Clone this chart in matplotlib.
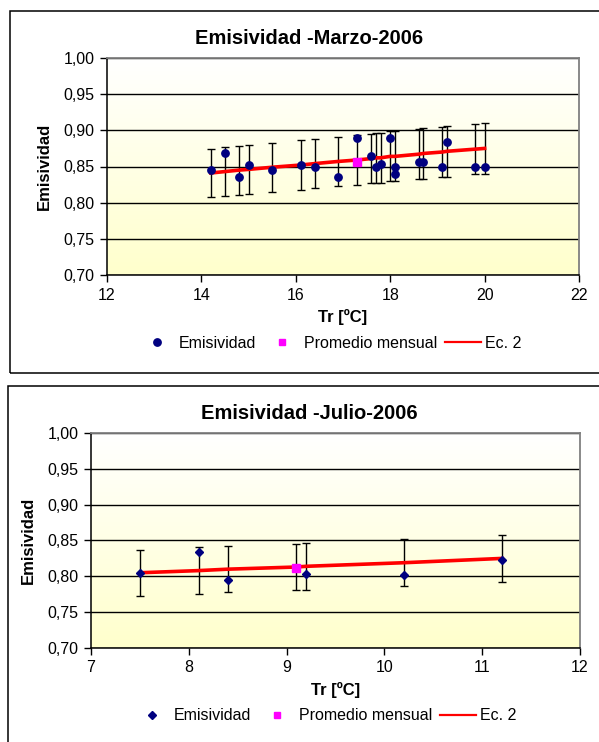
#!/usr/bin/env python3
import sys
import numpy as np
import matplotlib
matplotlib.use("Agg")
import matplotlib.pyplot as plt
from matplotlib.lines import Line2D
from matplotlib.patches import Rectangle
from matplotlib.ticker import FuncFormatter

W, H = 599, 742  # output size in pixels

# Marzo 2006
marzo_tr = [14.2, 14.5, 14.8, 15.0, 15.5, 16.1, 16.4, 16.9, 17.3, 17.6, 17.7,
            17.8, 18.0, 18.1, 18.1, 18.6, 18.7, 19.1, 19.2, 19.8, 20.0]
marzo_emis = [0.845, 0.868, 0.836, 0.852, 0.845, 0.852, 0.849, 0.836, 0.889, 0.864, 0.849,
              0.854, 0.889, 0.850, 0.840, 0.856, 0.856, 0.850, 0.884, 0.849, 0.850]
marzo_prom_tr = [17.3]
marzo_prom = [0.856]
marzo_ec2_tr = [14.2, 14.5, 14.8, 15.0, 15.5, 16.1, 16.4, 16.9, 17.3, 17.6,
                17.7, 17.8, 18.0, 18.1, 18.6, 18.7, 19.1, 19.2, 19.8, 20.0]
marzo_ec2 = [0.841, 0.843, 0.845, 0.846, 0.849, 0.852, 0.854, 0.857, 0.859, 0.861,
             0.862, 0.862, 0.864, 0.864, 0.867, 0.868, 0.870, 0.871, 0.874, 0.875]

# Julio 2006
julio_tr = [7.5, 8.1, 8.4, 9.2, 10.2, 11.2]
julio_emis = [0.805, 0.834, 0.795, 0.803, 0.802, 0.823]
julio_prom_tr = [9.1]
julio_prom = [0.811]
julio_ec2_tr = [7.5, 8.1, 8.4, 9.1, 9.2, 10.2, 11.2]
julio_ec2 = [0.805, 0.808, 0.810, 0.813, 0.814, 0.819, 0.825]

ERR_PCT = 0.04  # error bars, percent of Ec. 2
y_ticks = [0.70, 0.75, 0.80, 0.85, 0.90, 0.95, 1.00]

NAVY = "#000080"
MAGENTA = "#FF00FF"
RED = "#FF0000"


def fx(x):
    return x / W


def fy(y):
    return 1 - y / H


def panel(fig, ax_px, box_px, title, xticks, tr, emis, prom_tr, prom,
          ec2_tr, ec2, marker, ms, ylab_x, leg_x):
    l, t, r, b = ax_px
    # frame around the whole chart
    bl, bt, bb = box_px
    fig.patches.append(Rectangle((fx(bl), fy(bb)), 1.2, fy(bt) - fy(bb),
                                 transform=fig.transFigure, fill=False,
                                 edgecolor="black", lw=1.1))

    ax = fig.add_axes([fx(l), fy(b), fx(r - l), fy(t) - fy(b)])
    # white -> light yellow gradient
    grad = np.linspace(0, 1, 256).reshape(-1, 1, 1)
    top_c = np.array([1.0, 1.0, 1.0])
    bot_c = np.array([1.0, 1.0, 0.80])
    img = top_c * (1 - grad) + bot_c * grad
    ax.imshow(img, extent=[0, 1, 0, 1], transform=ax.transAxes,
              aspect="auto", zorder=0)

    err = [v * ERR_PCT for v in ec2]
    ax.errorbar(ec2_tr, ec2, yerr=err, fmt="none", ecolor="black",
                elinewidth=1, capsize=3, capthick=1, zorder=2)
    ax.plot(ec2_tr, ec2, color=RED, lw=2.6, zorder=3)
    ax.plot(tr, emis, ls="none", marker=marker, ms=ms, color=NAVY, zorder=4)
    ax.plot(prom_tr, prom, ls="none", marker="s", ms=5.2, color=MAGENTA, zorder=5)

    ax.set_xlim(xticks[0], xticks[-1])
    ax.set_ylim(0.70, 1.00)
    ax.set_xticks(xticks)
    ax.set_yticks(y_ticks)
    ax.yaxis.set_major_formatter(FuncFormatter(lambda v, p: f"{v:.2f}".replace(".", ",")))
    ax.grid(axis="y", color="black", lw=1)
    ax.set_axisbelow(True)
    for s in ["top", "right"]:
        ax.spines[s].set_color("#808080")
        ax.spines[s].set_linewidth(1.3)
        ax.spines[s].set_zorder(10)
    for s in ["left", "bottom"]:
        ax.spines[s].set_color("black")
        ax.spines[s].set_linewidth(1.1)
        ax.spines[s].set_zorder(10)
    ax.tick_params(direction="out", length=5, width=1, labelsize=11.5, pad=4)

    fig.text(fx(309), fy(box_px[1] + 28), title, ha="center", va="center",
             fontsize=14.5, fontweight="bold")
    fig.text(fx((l + r) / 2), fy(b + 42), "Tr [ºC]", ha="center", va="center",
             fontsize=12, fontweight="bold")
    fig.text(fx(ylab_x), fy((t + b) / 2), "Emisividad", ha="center", va="center",
             rotation=90, fontsize=12, fontweight="bold")

    handles = [
        Line2D([], [], ls="none", marker=marker, ms=ms, color=NAVY),
        Line2D([], [], ls="none", marker="s", ms=4.5, color=MAGENTA),
        Line2D([], [], color=RED, lw=1.6),
    ]
    fig.legend(handles, ["Emisividad", "Promedio mensual", "Ec. 2"],
               loc="center", bbox_to_anchor=(fx(leg_x), fy(b + 68)),
               ncol=3, frameon=False, fontsize=11.5, handlelength=2.3,
               handletextpad=0.25, columnspacing=0.45, borderpad=0)
    return ax


def main(args):
    plt.rcParams["font.family"] = ["Liberation Sans", "DejaVu Sans"]
    fig = plt.figure(figsize=(W / 100, H / 100), dpi=100)

    panel(fig, (107, 58, 579, 275), (10, 11, 373), "Emisividad -Marzo-2006",
          [12, 14, 16, 18, 20, 22], marzo_tr, marzo_emis, marzo_prom_tr, marzo_prom,
          marzo_ec2_tr, marzo_ec2, "o", 5.3, 44, 330)
    panel(fig, (91, 433, 580, 648), (8, 386, 800), "Emisividad -Julio-2006",
          [7, 8, 9, 10, 11, 12], julio_tr, julio_emis, julio_prom_tr, julio_prom,
          julio_ec2_tr, julio_ec2, "D", 4.3, 28.5, 325)

    fig.savefig("out.png", dpi=100)
    return 0


if __name__ == "__main__":
    sys.exit(main(sys.argv[1:]))
